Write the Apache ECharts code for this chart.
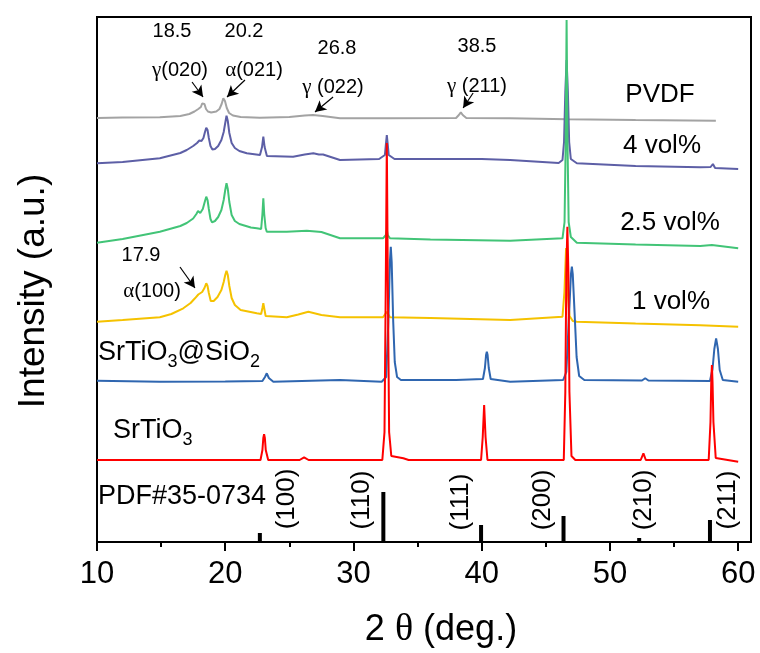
<!DOCTYPE html>
<html>
<head>
<meta charset="utf-8">
<title>XRD patterns</title>
<script src="https://cdn.jsdelivr.net/npm/echarts@6/dist/echarts.min.js"></script>
<style>
  html, body { margin: 0; padding: 0; background: #fff; }
  #chart { width: 760px; height: 653px; }
</style>
</head>
<body>
<div id="chart"></div>
<script>
// 2θ (deg.) vs intensity (a.u., stacked offsets)
const pvdf = [
  [10, 424], [12, 424.5], [14.9, 424.7], [16.5, 426], [17.2, 428], [17.6, 430.5], [17.9, 433],
  [18.1, 435], [18.2, 438.5], [18.28, 440.3], [18.38, 438], [18.5, 433], [18.65, 430.5], [18.9, 429.5],
  [19.3, 430.5], [19.55, 433], [19.72, 438], [19.85, 443.7], [19.98, 441], [20.12, 434], [20.3, 429],
  [20.6, 426.5], [21.2, 425], [22.7, 424.3], [25, 425], [26.2, 426.5], [26.85, 427], [27.6, 426],
  [28.95, 423.7], [32.85, 423.7], [38, 424], [38.22, 427], [38.37, 429.7], [38.52, 427], [38.8, 424],
  [42.2, 423.7], [46.7, 422.7], [52, 422], [58.26, 421.3]
];
const vol4 = [
  [10, 378.7], [12, 380], [14.9, 383.7], [16.5, 389], [17, 392], [17.5, 396], [17.8, 399],
  [17.98, 401.5], [18.15, 401], [18.3, 404], [18.42, 410], [18.52, 414.3], [18.62, 412], [18.72, 404],
  [18.85, 396], [19, 392.5], [19.2, 393], [19.45, 396], [19.7, 402], [19.88, 410], [20, 419],
  [20.1, 426.3], [20.2, 421], [20.32, 409], [20.5, 399], [20.75, 394], [21.1, 391], [21.68, 388.7],
  [22.71, 387], [22.87, 395], [22.97, 405.3], [23.07, 395], [23.25, 386], [25.29, 385.3], [26.2, 387.5],
  [26.87, 388.7], [27.3, 387.5], [27.63, 387.5], [28.95, 382], [32, 383], [32.45, 387], [32.53, 398],
  [32.6, 407], [32.67, 398], [32.75, 387], [33.2, 383], [38, 383], [40, 383], [42.22, 382], [46, 379],
  [46.3, 382], [46.42, 400], [46.52, 450], [46.62, 482], [46.72, 450], [46.82, 400], [46.95, 383],
  [47.42, 378.7], [52, 376], [57.04, 374.7], [57.85, 375], [58.03, 378], [58.2, 374], [60, 373]
];
const vol25 = [
  [10, 299.3], [12, 303], [14.9, 310.3], [16.5, 316], [17, 319], [17.5, 323.5], [17.75, 328],
  [17.88, 331], [18.05, 329], [18.25, 333], [18.4, 340], [18.52, 345.3], [18.62, 342], [18.72, 333],
  [18.85, 323], [18.97, 319.7], [19.2, 321], [19.45, 325], [19.7, 332], [19.88, 342], [20, 352],
  [20.1, 358.7], [20.2, 353], [20.32, 340], [20.5, 327], [20.75, 321], [21.1, 318], [22, 314.5],
  [22.46, 313.7], [22.8, 313], [22.9, 328], [22.97, 343.7], [23.04, 328], [23.15, 314], [23.24, 310.3],
  [24.8, 310.3], [26.36, 311.3], [27.5, 310], [28.95, 303.7], [32.3, 303.7], [32.53, 307], [32.6, 312],
  [32.67, 307], [32.85, 303.7], [36, 302.5], [42.22, 301.3], [46.3, 303.7], [46.46, 320], [46.55, 400],
  [46.62, 522], [46.69, 400], [46.78, 320], [46.95, 305], [47.42, 299.3], [52, 297.5], [57.04, 296],
  [57.95, 297], [58.1, 295], [60, 293.7]
];
const vol1 = [
  [10, 220.3], [12, 222], [14.9, 224.7], [15.8, 228], [16.73, 233.7], [17.3, 239], [17.64, 243.7],
  [17.9, 247.5], [18.03, 248.7], [18.2, 250], [18.38, 254], [18.52, 258.7], [18.62, 256], [18.72, 249],
  [18.87, 241], [19.1, 241], [19.4, 245], [19.7, 252], [19.88, 260], [20, 267], [20.1, 271.3],
  [20.2, 267], [20.32, 256], [20.5, 244], [20.75, 237], [21.2, 232], [22.46, 228.7], [22.8, 228],
  [22.9, 234], [22.97, 238.7], [23.05, 233], [23.15, 226], [23.24, 224.7], [24.8, 224.7], [25.7, 227.5],
  [26.48, 230.3], [27.5, 227], [28.95, 224.7], [32.3, 224.7], [32.6, 230.3], [32.85, 224.7], [36, 224],
  [42.22, 222], [46.3, 225.3], [46.45, 250], [46.58, 294], [46.71, 250], [46.85, 226], [47.1, 221],
  [47.42, 220.3], [52, 218.5], [57.04, 216.7], [60, 215.3]
];
const stoSio2 = [
  [10, 161.3], [14.9, 160.3], [20, 160.5], [22.9, 161], [23.1, 165], [23.24, 168.7], [23.4, 164],
  [23.75, 160.3], [28.95, 162], [32.2, 160.3], [32.55, 165], [32.72, 220], [32.84, 280], [32.91, 295.3],
  [32.98, 280], [33.1, 220], [33.22, 180], [33.4, 165], [33.7, 162], [38, 162], [40.1, 163],
  [40.25, 174], [40.34, 187], [40.4, 190.3], [40.46, 187], [40.55, 174], [40.7, 163], [42.22, 160.3],
  [46.35, 162], [46.6, 170], [46.82, 230], [46.96, 268], [47.03, 275.3], [47.1, 268], [47.24, 230],
  [47.4, 185], [47.6, 166], [48, 162], [52.5, 161.5], [52.75, 163.7], [53, 161.5], [57.8, 161],
  [58, 173], [58.14, 193], [58.28, 203.7], [58.42, 193], [58.56, 172], [58.8, 162], [60, 160.3]
];
const sto = [
  [10, 82], [14.9, 82], [22.75, 82], [22.9, 92], [22.97, 104], [23.03, 107.7], [23.09, 104],
  [23.16, 92], [23.35, 82], [25.8, 82], [26.15, 84.7], [26.5, 82], [32.25, 82], [32.42, 110],
  [32.52, 260], [32.6, 399], [32.68, 260], [32.78, 110], [32.95, 86], [33.89, 83.7], [34.3, 82],
  [39.95, 82], [40.08, 105], [40.19, 137], [40.3, 105], [40.45, 82], [46.4, 82], [46.52, 150],
  [46.6, 270], [46.68, 315.3], [46.76, 270], [46.84, 150], [47, 86], [47.3, 82], [52.4, 82],
  [52.61, 88.7], [52.8, 82], [57.7, 82], [57.84, 120], [57.9, 160], [57.95, 177], [58.0, 160],
  [58.07, 120], [58.25, 84], [60, 80.3]
];
// PDF#35-0734 reference lines
const pdfSticks = [[22.7, 9], [32.33, 50], [39.95, 17], [46.38, 26], [52.28, 4], [57.8, 22]];
const xTicks = [10, 20, 30, 40, 50, 60];
const xMinorTicks = [15, 25, 35, 45, 55];

const FONT = 'Arial, "Liberation Sans", sans-serif';
const SERIF = '"Liberation Serif", "DejaVu Serif", serif';

const chart = echarts.init(document.getElementById('chart'));

function txt(text, x, y, size, opts) {
  return Object.assign({
    type: 'text', x: x, y: y, z: 10,
    style: {
      text: text, fontFamily: FONT, fontSize: size, fill: '#000',
      align: 'center', verticalAlign: 'middle'
    }
  }, opts || {});
}
function greek(g, rest, x, y) {
  return {
    type: 'text', x: x, y: y, z: 10,
    style: {
      text: '{g|' + g + '}{t|' + rest + '}',
      align: 'center', verticalAlign: 'middle', fill: '#000',
      rich: {
        g: { fontFamily: SERIF, fontSize: 21, fill: '#000' },
        t: { fontFamily: FONT, fontSize: 20, fill: '#000' }
      }
    }
  };
}
function hkl(text, x, y) {
  return txt(text, x, y, 26, { rotation: Math.PI / 2 });
}

function curve(name, data, color) {
  return {
    name: name, type: 'line', data: data, showSymbol: false, symbol: 'none',
    lineStyle: { color: color, width: 2 }, itemStyle: { color: color }, z: 3
  };
}

const arrows = [
  [[17.41, 460], [18.27, 445]],
  [[21.54, 462], [20.14, 445]],
  [[28.41, 445], [27.0, 430]],
  [[39.33, 449], [38.55, 434]],
  [[16.47, 275], [17.64, 254]]
];

const subRich = {
  a: { fontFamily: FONT, fontSize: 27, lineHeight: 30 },
  b: { fontFamily: FONT, fontSize: 18, lineHeight: 36, verticalAlign: 'bottom' }
};

chart.setOption({
  backgroundColor: '#fff',
  animation: false,
  grid: {
    left: 97, right: 9, top: 17, bottom: 111,
    show: true, borderColor: '#000', borderWidth: 2, backgroundColor: 'transparent'
  },
  xAxis: [{
    type: 'value', min: 10, max: 61, position: 'bottom',
    axisLine: { show: true, lineStyle: { color: '#000', width: 2 } },
    axisTick: { show: true, length: 9, lineStyle: { color: '#000', width: 2 }, customValues: xTicks },
    axisLabel: { customValues: xTicks, color: '#000', fontFamily: FONT, fontSize: 31, margin: 17 },
    splitLine: { show: false }
  }, {
    type: 'value', min: 10, max: 61, position: 'bottom',
    axisLine: { show: false },
    axisTick: { show: true, length: 5, lineStyle: { color: '#000', width: 2 }, customValues: xMinorTicks },
    axisLabel: { show: false },
    splitLine: { show: false }
  }],
  yAxis: {
    type: 'value', min: 0, max: 525,
    axisLine: { show: true, lineStyle: { color: '#000', width: 2 } },
    axisTick: { show: false },
    axisLabel: { show: false },
    splitLine: { show: false }
  },
  series: [
    {
      name: 'PDF#35-0734', type: 'bar', data: pdfSticks, barWidth: 4,
      itemStyle: { color: '#000' }, z: 2
    },
    Object.assign(curve('PVDF', pvdf, '#a3a3a3'), {
      markLine: {
        silent: true, symbol: ['none', 'arrow'], symbolSize: [9, 11],
        lineStyle: { color: '#000', width: 1.2, type: 'solid' },
        label: { show: false },
        data: arrows.map(a => [{ coord: a[0] }, { coord: a[1] }])
      }
    }),
    curve('4 vol%', vol4, '#5d5fa6'),
    curve('2.5 vol%', vol25, '#42c477'),
    curve('1 vol%', vol1, '#f5c200'),
    curve('SrTiO3@SiO2', stoSio2, '#2f66b0'),
    curve('SrTiO3', sto, '#ff0000')
  ],
  graphic: [
    txt('18.5', 172, 31, 20),
    txt('20.2', 244, 31, 20),
    greek('γ', '(020)', 180, 70),
    greek('α', '(021)', 254, 70),
    txt('26.8', 337, 48, 20),
    greek('γ', ' (022)', 333, 87),
    txt('38.5', 477, 46, 20),
    greek('γ', ' (211)', 477, 86),
    txt('17.9', 141, 255, 20),
    greek('α', '(100)', 152, 291),
    txt('PVDF', 660, 95, 26),
    txt('4 vol%', 662, 146, 26),
    txt('2.5 vol%', 670, 223, 26),
    txt('1 vol%', 671, 302, 26),
    {
      type: 'text', x: 98, y: 353, z: 10,
      style: { text: '{a|SrTiO}{b|3}{a|@SiO}{b|2}', align: 'left', verticalAlign: 'middle', fill: '#000', rich: subRich }
    },
    {
      type: 'text', x: 113, y: 431, z: 10,
      style: { text: '{a|SrTiO}{b|3}', align: 'left', verticalAlign: 'middle', fill: '#000', rich: subRich }
    },
    {
      type: 'text', x: 98, y: 497, z: 10,
      style: { text: 'PDF#35-0734', fontFamily: FONT, fontSize: 27, fill: '#000', align: 'left', verticalAlign: 'middle' }
    },
    hkl('(100)', 287, 499),
    hkl('(110)', 362, 500),
    hkl('(111)', 461, 502),
    hkl('(200)', 543, 500),
    hkl('(210)', 644, 500),
    hkl('(211)', 728, 500),
    txt('Intensity (a.u.)', 34, 291, 37, { rotation: Math.PI / 2 }),
    {
      type: 'text', x: 441, y: 630, z: 10,
      style: {
        text: '{t|2 }{g|θ}{t| (deg.)}', align: 'center', verticalAlign: 'middle', fill: '#000',
        rich: {
          t: { fontFamily: FONT, fontSize: 36 },
          g: { fontFamily: SERIF, fontSize: 38 }
        }
      }
    }
  ]
});
</script>
</body>
</html>
